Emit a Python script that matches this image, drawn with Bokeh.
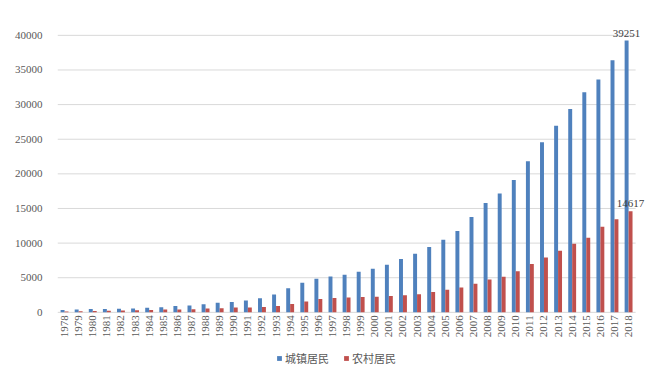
from bokeh.plotting import figure
from bokeh.models import (ColumnDataSource, Range1d, Legend, LegendItem, FixedTicker,
                          NumeralTickFormatter, LabelSet)
from bokeh.transform import dodge
from bokeh.core.properties import value
from bokeh.embed import file_html
from bokeh.resources import INLINE
import math

years = [str(y) for y in range(1978, 2019)]
urban = [343, 405, 478, 500, 535, 565, 652, 739, 901, 1002, 1180, 1374, 1510, 1701,
         2027, 2577, 3496, 4283, 4839, 5160, 5425, 5854, 6280, 6860, 7703, 8472,
         9422, 10493, 11760, 13786, 15781, 17175, 19109, 21810, 24565, 26955,
         29381, 31790, 33616, 36396, 39251]
rural = [134, 160, 191, 223, 270, 310, 355, 398, 424, 463, 545, 602, 686, 709,
         784, 922, 1221, 1578, 1926, 2090, 2162, 2210, 2253, 2366, 2476, 2622,
         2936, 3255, 3587, 4140, 4761, 5153, 5919, 6977, 7917, 8896,
         9892, 10772, 12363, 13432, 14617]
yticks = [0, 5000, 10000, 15000, 20000, 25000, 30000, 35000, 40000]
series_names = ["城镇居民", "农村居民"]
colors = ["#4F81BD", "#C0504D"]

idx = list(range(len(years)))
src = ColumnDataSource(dict(i=idx, urban=urban, rural=rural, year=years,
                            base=[0] * len(years)))
lab_u = ColumnDataSource(dict(i=[idx[-1]], v=[urban[-1]], t=[str(urban[-1])]))
lab_r = ColumnDataSource(dict(i=[idx[-1]], v=[rural[-1]], t=[str(rural[-1])]))
grid = ColumnDataSource(dict(x0=[-0.5] * len(yticks), x1=[len(years) - 0.5] * len(yticks),
                             y=yticks))

p = figure(x_range=Range1d(-0.5, len(years) + 0.2), y_range=Range1d(-8686, 42000),
           frame_width=588, frame_height=351, output_backend="svg", toolbar_location=None,
           min_border_left=57, min_border_right=7, min_border_top=21, min_border_bottom=2)
p.outline_line_color = None
p.xgrid.grid_line_color = None
p.ygrid.grid_line_color = None
p.xaxis.visible = False

p.segment(x0='x0', x1='x1', y0='y', y1='y', source=grid, line_color="#d9d9d9", line_width=1)

w = 0.28
r1 = p.vbar(x=dodge('i', -w / 2), top='urban', width=w, source=src,
            color=colors[0], line_color=None)
r2 = p.vbar(x=dodge('i', w / 2), top='rural', width=w, source=src,
            color=colors[1], line_color=None)

# category (year) labels, vertical, reading bottom-to-top
p.text(x='i', y='base', text='year', source=src, angle=math.pi / 2,
       text_font=value("Liberation Serif"), text_font_size="11px", text_color="#595959",
       text_align="right", text_baseline="middle", y_offset=3)

for s, off in ((lab_u, -w / 2), (lab_r, w / 2)):
    p.add_layout(LabelSet(x=dodge('i', off), y='v', text='t', source=s,
                          text_font="Liberation Serif", text_font_size="11px",
                          text_color="#404040", text_align="center",
                          text_baseline="bottom", y_offset=4))

p.yaxis.ticker = FixedTicker(ticks=yticks)
p.yaxis.formatter = NumeralTickFormatter(format="0")
p.yaxis.axis_line_color = None
p.yaxis.major_tick_line_color = None
p.yaxis.minor_tick_line_color = None
p.yaxis.major_label_text_font = "Liberation Serif"
p.yaxis.major_label_text_font_size = "11px"
p.yaxis.major_label_text_color = "#595959"
p.yaxis.major_label_standoff = 9

legend = Legend(items=[LegendItem(label=series_names[0], renderers=[r1]),
                       LegendItem(label=series_names[1], renderers=[r2])],
                orientation="horizontal", location=(219, 6))
legend.label_text_font = "Noto Sans CJK SC"
legend.label_text_font_size = "11px"
legend.label_text_color = "#595959"
legend.glyph_width = 6
legend.glyph_height = 6
legend.label_height = 12
legend.spacing = 14
legend.label_standoff = 3
legend.padding = 0
legend.margin = 0
legend.border_line_color = None
legend.background_fill_alpha = 0
p.add_layout(legend)

open("out.html", "w").write(file_html(p, INLINE))
